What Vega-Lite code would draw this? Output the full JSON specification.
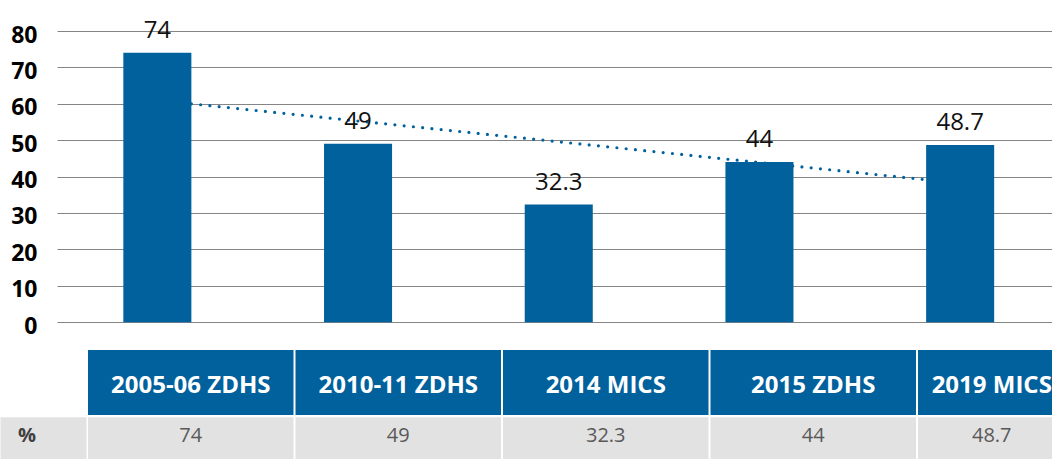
{
  "$schema": "https://vega.github.io/schema/vega-lite/v6.json",
  "width": 999,
  "height": 428,
  "autosize": {"type": "none"},
  "padding": {"left": 53, "top": 31, "right": 0, "bottom": 0},
  "background": "white",
  "config": {"view": {"stroke": null}, "font": "Open Sans"},
  "datasets": {
    "surveys": [
      {"survey": "2005-06 ZDHS", "value": 74},
      {"survey": "2010-11 ZDHS", "value": 49},
      {"survey": "2014 MICS", "value": 32.3},
      {"survey": "2015 ZDHS", "value": 44},
      {"survey": "2019 MICS", "value": 48.7}
    ],
    "trend": [
      {"survey": "2005-06 ZDHS", "trend": 60.0},
      {"survey": "2019 MICS", "trend": 37.2}
    ],
    "rowlabel": [{"label": "%"}]
  },
  "layer": [
    {
      "data": {"name": "surveys"},
      "encoding": {
        "x": {
          "field": "survey", "type": "nominal", "sort": null, "axis": null,
          "scale": {
            "domain": ["2005-06 ZDHS", "2010-11 ZDHS", "2014 MICS", "2015 ZDHS", "2019 MICS"],
            "range": [4, 1007.5], "paddingInner": 0.661, "paddingOuter": 0.3305
          }
        }
      },
      "layer": [
        {
          "mark": {"type": "bar", "color": "#01619c"},
          "encoding": {
            "y": {
              "field": "value", "type": "quantitative",
              "scale": {"domain": [-37.6, 80], "nice": false, "zero": false},
              "axis": {
                "values": [0, 10, 20, 30, 40, 50, 60, 70, 80],
                "title": null, "domain": false, "ticks": false,
                "grid": true, "gridColor": "#858585", "gridWidth": 1.2,
                "labelFont": "Open Sans", "labelFontWeight": "bold", "labelFontSize": 23,
                "labelColor": "#000000", "labelPadding": 16, "labelOffset": 4
              }
            },
            "y2": {"datum": 0}
          }
        },
        {
          "data": {"name": "trend"},
          "mark": {"type": "line", "color": "#01619c", "strokeWidth": 3.2, "strokeCap": "round", "strokeDash": [0, 9.3]},
          "encoding": {
            "x": {"field": "survey", "type": "nominal", "bandPosition": 1},
            "y": {"field": "trend", "type": "quantitative"}
          }
        },
        {
          "mark": {"type": "text", "fontSize": 24, "color": "#111111", "baseline": "alphabetic", "dy": -15, "font": "Open Sans"},
          "encoding": {
            "y": {"field": "value", "type": "quantitative"},
            "text": {"field": "value", "type": "quantitative"}
          }
        }
      ]
    },
    {
      "data": {"name": "surveys"},
      "encoding": {
        "x": {
          "field": "survey", "type": "nominal", "sort": null, "axis": null,
          "scale": {
            "domain": ["2005-06 ZDHS", "2010-11 ZDHS", "2014 MICS", "2015 ZDHS", "2019 MICS"],
            "range": [34, 1071.5], "paddingInner": 0, "paddingOuter": 0
          }
        }
      },
      "layer": [
        {
          "mark": {"type": "bar", "width": 205.5, "color": "#01619c"},
          "encoding": {"y": {"datum": -7.64, "type": "quantitative"}, "y2": {"datum": -25.5}}
        },
        {
          "mark": {"type": "bar", "width": 205.5, "color": "#e2e2e2"},
          "encoding": {"y": {"datum": -26.1, "type": "quantitative"}, "y2": {"datum": -37.6}}
        },
        {
          "transform": [{"filter": "datum.survey !== '2019 MICS'"}],
          "mark": {"type": "text", "fontSize": 24, "fontWeight": "bold", "color": "#ffffff", "baseline": "alphabetic", "font": "Open Sans"},
          "encoding": {"y": {"datum": -19.45, "type": "quantitative"}, "text": {"field": "survey"}}
        },
        {
          "transform": [{"filter": "datum.survey === '2019 MICS'"}],
          "mark": {"type": "text", "fontSize": 24, "fontWeight": "bold", "color": "#ffffff", "baseline": "alphabetic", "font": "Open Sans", "dx": -29},
          "encoding": {"y": {"datum": -19.45, "type": "quantitative"}, "text": {"field": "survey"}}
        },
        {
          "transform": [{"filter": "datum.survey !== '2019 MICS'"}],
          "mark": {"type": "text", "fontSize": 20, "color": "#595959", "baseline": "alphabetic", "font": "Open Sans"},
          "encoding": {"y": {"datum": -32.92, "type": "quantitative"}, "text": {"field": "value", "type": "quantitative"}}
        },
        {
          "transform": [{"filter": "datum.survey === '2019 MICS'"}],
          "mark": {"type": "text", "fontSize": 20, "color": "#595959", "baseline": "alphabetic", "font": "Open Sans", "dx": -29},
          "encoding": {"y": {"datum": -32.92, "type": "quantitative"}, "text": {"field": "value", "type": "quantitative"}}
        }
      ]
    },
    {
      "data": {"name": "rowlabel"},
      "encoding": {
        "x": {
          "field": "label", "type": "nominal", "axis": null,
          "scale": {"range": [-53, 34], "paddingInner": 0, "paddingOuter": 0}
        }
      },
      "layer": [
        {
          "mark": {"type": "bar", "width": 86, "color": "#e2e2e2"},
          "encoding": {"y": {"datum": -26.1, "type": "quantitative"}, "y2": {"datum": -37.6}}
        },
        {
          "mark": {"type": "text", "fontSize": 20, "fontWeight": "bold", "color": "#404040", "baseline": "alphabetic", "align": "left", "dx": 18, "font": "Open Sans"},
          "encoding": {
            "x": {"field": "label", "type": "nominal", "bandPosition": 0},
            "y": {"datum": -32.92, "type": "quantitative"},
            "text": {"field": "label"}
          }
        }
      ]
    }
  ],
  "resolve": {"scale": {"x": "independent"}, "axis": {"x": "independent"}}
}
